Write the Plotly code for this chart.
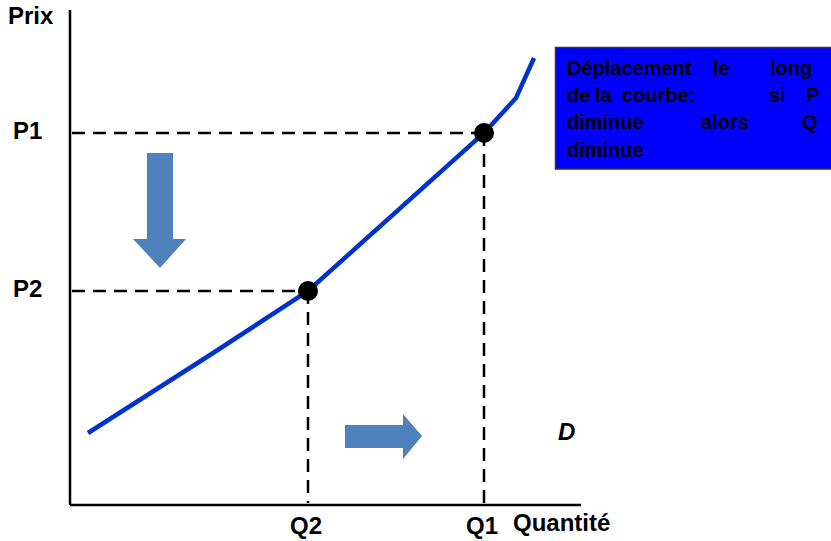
import plotly.graph_objects as go

W, H = 831, 541

# Demand curve (quantity, price) in chart units
curve_q = [3.6, 28.0, 47.6, 54.0, 82.8, 89.2, 92.8]
curve_p = [14.4, 30.0, 42.8, 48.6, 74.4, 81.4, 89.4]

# The two marked points on the curve
point_names_q = ["Q2", "Q1"]
point_names_p = ["P2", "P1"]
point_q = [47.6, 82.8]
point_p = [42.8, 74.4]

axis_q_max = 102.2
axis_p_max = 99.0

# one chart unit = 5 px, origin of the axes at pixel (70, 505)
UNIT = 5.0
X0, Y0 = 70.0, 505.0
x_range = [-X0 / UNIT, (W - X0) / UNIT]
y_range = [-(H - Y0) / UNIT, Y0 / UNIT]


def px_x(px):
    return (px - X0) / UNIT


def px_y(py):
    return (Y0 - py) / UNIT


FONT = "Liberation Sans, Arial, sans-serif"
BLUE_CURVE = "#0033CC"
ARROW_BLUE = "#4F81BD"

fig = go.Figure()

# axes
fig.add_trace(go.Scatter(x=[0, 0], y=[axis_p_max, 0], mode="lines",
                         line=dict(color="black", width=2.5), hoverinfo="skip"))
fig.add_trace(go.Scatter(x=[0, axis_q_max], y=[0, 0], mode="lines",
                         line=dict(color="black", width=2.5), hoverinfo="skip"))

# dashed guides from each point to both axes
for q, p in zip(point_q, point_p):
    fig.add_trace(go.Scatter(x=[0.4, q], y=[p, p], mode="lines",
                             line=dict(color="black", width=2.5, dash="13px,8px"),
                             hoverinfo="skip"))
    fig.add_trace(go.Scatter(x=[q, q], y=[p, 0.4], mode="lines",
                             line=dict(color="black", width=2.5, dash="13px,8px"),
                             hoverinfo="skip"))

# demand curve
fig.add_trace(go.Scatter(x=curve_q, y=curve_p, mode="lines",
                         line=dict(color=BLUE_CURVE, width=4.5), hoverinfo="skip"))

# points
fig.add_trace(go.Scatter(x=point_q, y=point_p, mode="markers",
                         marker=dict(color="black", size=20), hoverinfo="skip"))

shapes = []


def poly(points):
    d = "M " + " L ".join(f"{px_x(a):.3f},{px_y(b):.3f}" for a, b in points) + " Z"
    return d


# downward arrow (price falls)
shapes.append(dict(type="path", xref="x", yref="y",
                   path=poly([(147, 153), (173, 153), (173, 239), (186, 239),
                              (160, 268), (133, 239), (147, 239)]),
                   fillcolor=ARROW_BLUE, line=dict(width=0)))
# rightward arrow
shapes.append(dict(type="path", xref="x", yref="y",
                   path=poly([(345, 425), (403, 425), (403, 414), (422, 436),
                              (403, 459), (403, 448), (345, 448)]),
                   fillcolor=ARROW_BLUE, line=dict(width=0)))
# text box
shapes.append(dict(type="rect", xref="x", yref="y",
                   x0=px_x(555.5), x1=px_x(832), y0=px_y(47.5), y1=px_y(169),
                   fillcolor="#0000FF", line=dict(color="#333333", width=1.5)))

annotations = []


def label(text, x, y, xanchor="left", size=24, italic=False):
    t = f"<b><i>{text}</i></b>" if italic else f"<b>{text}</b>"
    annotations.append(dict(text=t, x=x, y=y, xref="x", yref="y",
                            xanchor=xanchor, yanchor="middle", showarrow=False,
                            font=dict(family=FONT, size=size, color="black")))


label("Prix", px_x(6), px_y(15))
for name, p in zip(point_names_p, point_p):
    label(name, px_x(11), p + px_y(130) - px_y(133))
for name, q in zip(point_names_q, point_q):
    label(name, q - 0.4, px_y(525), xanchor="center")
label("Quantité", px_x(511), px_y(522))
label("D", px_x(566), px_y(431), xanchor="center", size=24, italic=True)

# justified text inside the box, word by word
box_lines = [
    [("Déplacement", 565), ("le", 711), ("long", 768)],
    [("de", 565), ("la", 593), ("courbe:", 620), ("si", 767), ("P", 804)],
    [("diminue", 565), ("alors", 699), ("Q", 800)],
    [("diminue", 565)],
]
line_centers = [68, 95, 122, 150]
for words, cy in zip(box_lines, line_centers):
    for w, lx in words:
        label(w, px_x(lx), px_y(cy), size=20)

fig.update_layout(
    width=W, height=H,
    margin=dict(l=0, r=0, t=0, b=0),
    paper_bgcolor="white", plot_bgcolor="white",
    showlegend=False,
    xaxis=dict(range=x_range, visible=False, fixedrange=True),
    yaxis=dict(range=y_range, visible=False, fixedrange=True),
    shapes=shapes,
    annotations=annotations,
)

fig.write_html("out.html")
